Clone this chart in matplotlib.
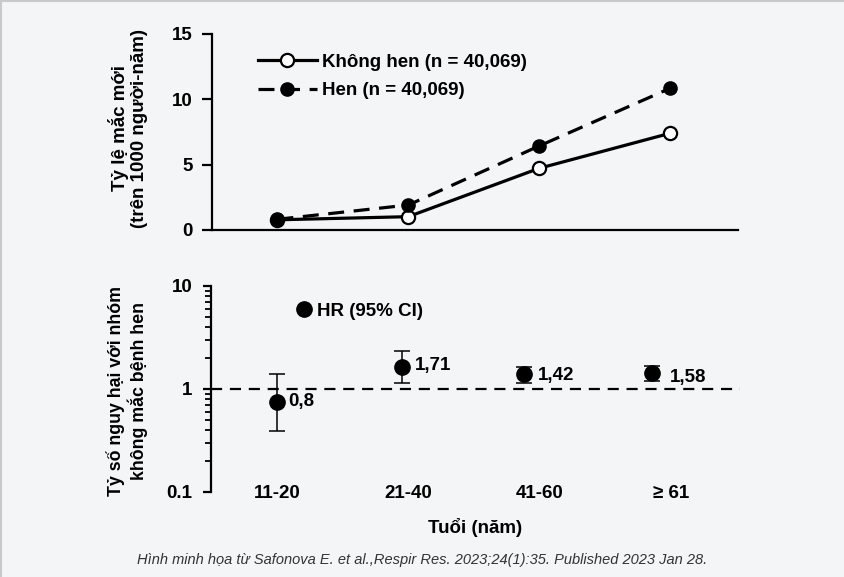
import matplotlib
matplotlib.use("Agg")
import matplotlib.pyplot as plt
from matplotlib.lines import Line2D
from matplotlib.ticker import LogLocator, FixedLocator, NullFormatter

# ---------------- data ----------------
age_groups = ["11-20", "21-40", "41-60", "\u2265 61"]
incidence_no_asthma = [0.78, 1.02, 4.72, 7.40]
incidence_asthma = [0.82, 1.91, 6.43, 10.84]
label_no_asthma = "Không hen (n = 40,069)"
label_asthma = "Hen (n = 40,069)"

hr = [0.75, 1.64, 1.38, 1.43]
hr_low = [0.39, 1.14, 1.13, 1.19]
hr_high = [1.41, 2.33, 1.64, 1.66]
hr_labels = ["0,8", "1,71", "1,42", "1,58"]

top_yticks = [0, 5, 10, 15]
bottom_yticks = [0.1, 1, 10]
bottom_yticklabels = ["0.1", "1", "10"]

# ---------------- style ----------------
hr_x_shift = [0.0, -0.045, -0.12, -0.145]
hr_label_offsets = [(8, 0), (9, 1), (9.5, -0.5), (12.5, -3.6)]
BG = "#f4f5f7"
FONT = ["Liberation Sans", "DejaVu Sans"]
plt.rcParams["font.family"] = FONT
plt.rcParams["font.weight"] = "bold"
FS = 13.5

W, H = 845, 577
fig = plt.figure(figsize=(W / 100, H / 100), dpi=100, facecolor=BG)

def px_axes(left, top, right, bottom):
    return fig.add_axes([left / W, 1 - bottom / H, (right - left) / W, (bottom - top) / H])

x = list(range(len(age_groups)))

# ---------- top panel ----------
ax1 = px_axes(212, 34, 738, 230)
ax1.set_facecolor(BG)
ln1, = ax1.plot(x, incidence_no_asthma, color="black", lw=2.3, marker="o", ms=9.5,
                mfc="white", mec="black", mew=1.6, zorder=3, clip_on=False)
ln2, = ax1.plot(x, incidence_asthma, color="black", lw=2.3, ls=(0, (5, 3)), marker="o",
                ms=9.5, mfc="black", mec="black", zorder=4, clip_on=False)
ax1.set_xlim(-0.5, 3.52)
ax1.set_ylim(0, 15)
ax1.set_yticks(top_yticks)
ax1.set_xticks([])
for s in ["top", "right"]:
    ax1.spines[s].set_visible(False)
for s in ["left", "bottom"]:
    ax1.spines[s].set_linewidth(1.6)
ax1.tick_params(axis="y", length=7, width=1.6, pad=7, labelsize=FS)
ax1.set_ylabel("Tỷ lệ mắc mới\n(trên 1000 người-năm)", fontsize=FS, fontweight="bold",
               linespacing=1.12)
ax1.yaxis.set_label_coords(-0.122, 0.52)
leg1 = ax1.legend([ln1, ln2], [label_no_asthma, label_asthma], loc="upper left",
                  bbox_to_anchor=(0.087, 0.90), frameon=False, fontsize=FS,
                  handlelength=3.15, handletextpad=0.25, labelspacing=0.61,
                  borderpad=0, borderaxespad=0, numpoints=1)
for t in leg1.get_texts():
    t.set_fontweight("bold")

# ---------- bottom panel ----------
ax2 = px_axes(211, 286, 740, 491.7)
ax2.set_facecolor(BG)
ax2.set_yscale("log")
ax2.set_ylim(0.1, 10)
ax2.set_xlim(-0.5, 3.52)
ax2.axhline(1, color="black", lw=1.6, ls=(0, (5, 3.5)), zorder=1)
hx = [xi + sh for xi, sh in zip(x, hr_x_shift)]
yerr = [[h - l for h, l in zip(hr, hr_low)], [u - h for h, u in zip(hr, hr_high)]]
eb = ax2.errorbar(hx, hr, yerr=yerr, fmt="o", color="black", ms=11, elinewidth=1.1,
                  capsize=5.5, capthick=1.1, zorder=3)
for xi, yi, lab, off in zip(hx, hr, hr_labels, hr_label_offsets):
    ax2.annotate(lab, (xi, yi), xytext=off, textcoords="offset points", ha="left",
                 va="center", fontsize=FS, fontweight="bold")
hr_handle = Line2D([], [], ls="none", marker="o", ms=11, color="black")
leg2 = ax2.legend([hr_handle], ["HR (95% CI)"], loc="upper left",
                  bbox_to_anchor=(0.16, 0.92), frameon=False, fontsize=FS,
                  handlelength=0.9, handletextpad=0.25, borderpad=0, borderaxespad=0)
for t in leg2.get_texts():
    t.set_fontweight("bold")

ax2.yaxis.set_major_locator(FixedLocator(bottom_yticks))
ax2.set_yticklabels(bottom_yticklabels)
ax2.yaxis.set_minor_locator(LogLocator(base=10, subs=range(2, 10)))
ax2.yaxis.set_minor_formatter(NullFormatter())
ax2.set_xticks(x)
ax2.set_xticklabels(age_groups)
for s in ["top", "right", "bottom"]:
    ax2.spines[s].set_visible(False)
ax2.spines["left"].set_linewidth(1.6)
ax2.tick_params(axis="y", which="major", length=5.5, width=1.6, pad=8, labelsize=FS)
ax2.tick_params(axis="y", which="minor", length=4, width=1.3)
ax2.tick_params(axis="x", length=0, pad=-5, labelsize=FS)
ax2.set_ylabel("Tỷ số nguy hại với nhóm\nkhông mắc bệnh hen", fontsize=12.8,
               fontweight="bold", linespacing=1.12)
ax2.yaxis.set_label_coords(-0.12, 0.49)
ax2.set_xlabel("Tuổi (năm)", fontsize=FS, fontweight="bold", labelpad=12)

fig.text(422 / W, 1 - 560 / H,
         "Hình minh họa từ Safonova E. et al.,Respir Res. 2023;24(1):35. Published 2023 Jan 28.",
         ha="center", va="center", fontsize=10.5, style="italic", fontweight="normal",
         color="#333333")

# card edge shadow (top / left)
fig.add_artist(Line2D([0, 1], [1 - 1 / H, 1 - 1 / H], color="#c9c9cc", lw=1.5,
                      transform=fig.transFigure))
fig.add_artist(Line2D([1 / W, 1 / W], [0, 1], color="#c9c9cc", lw=1.5,
                      transform=fig.transFigure))

fig.savefig("out.png", dpi=100, facecolor=BG)
